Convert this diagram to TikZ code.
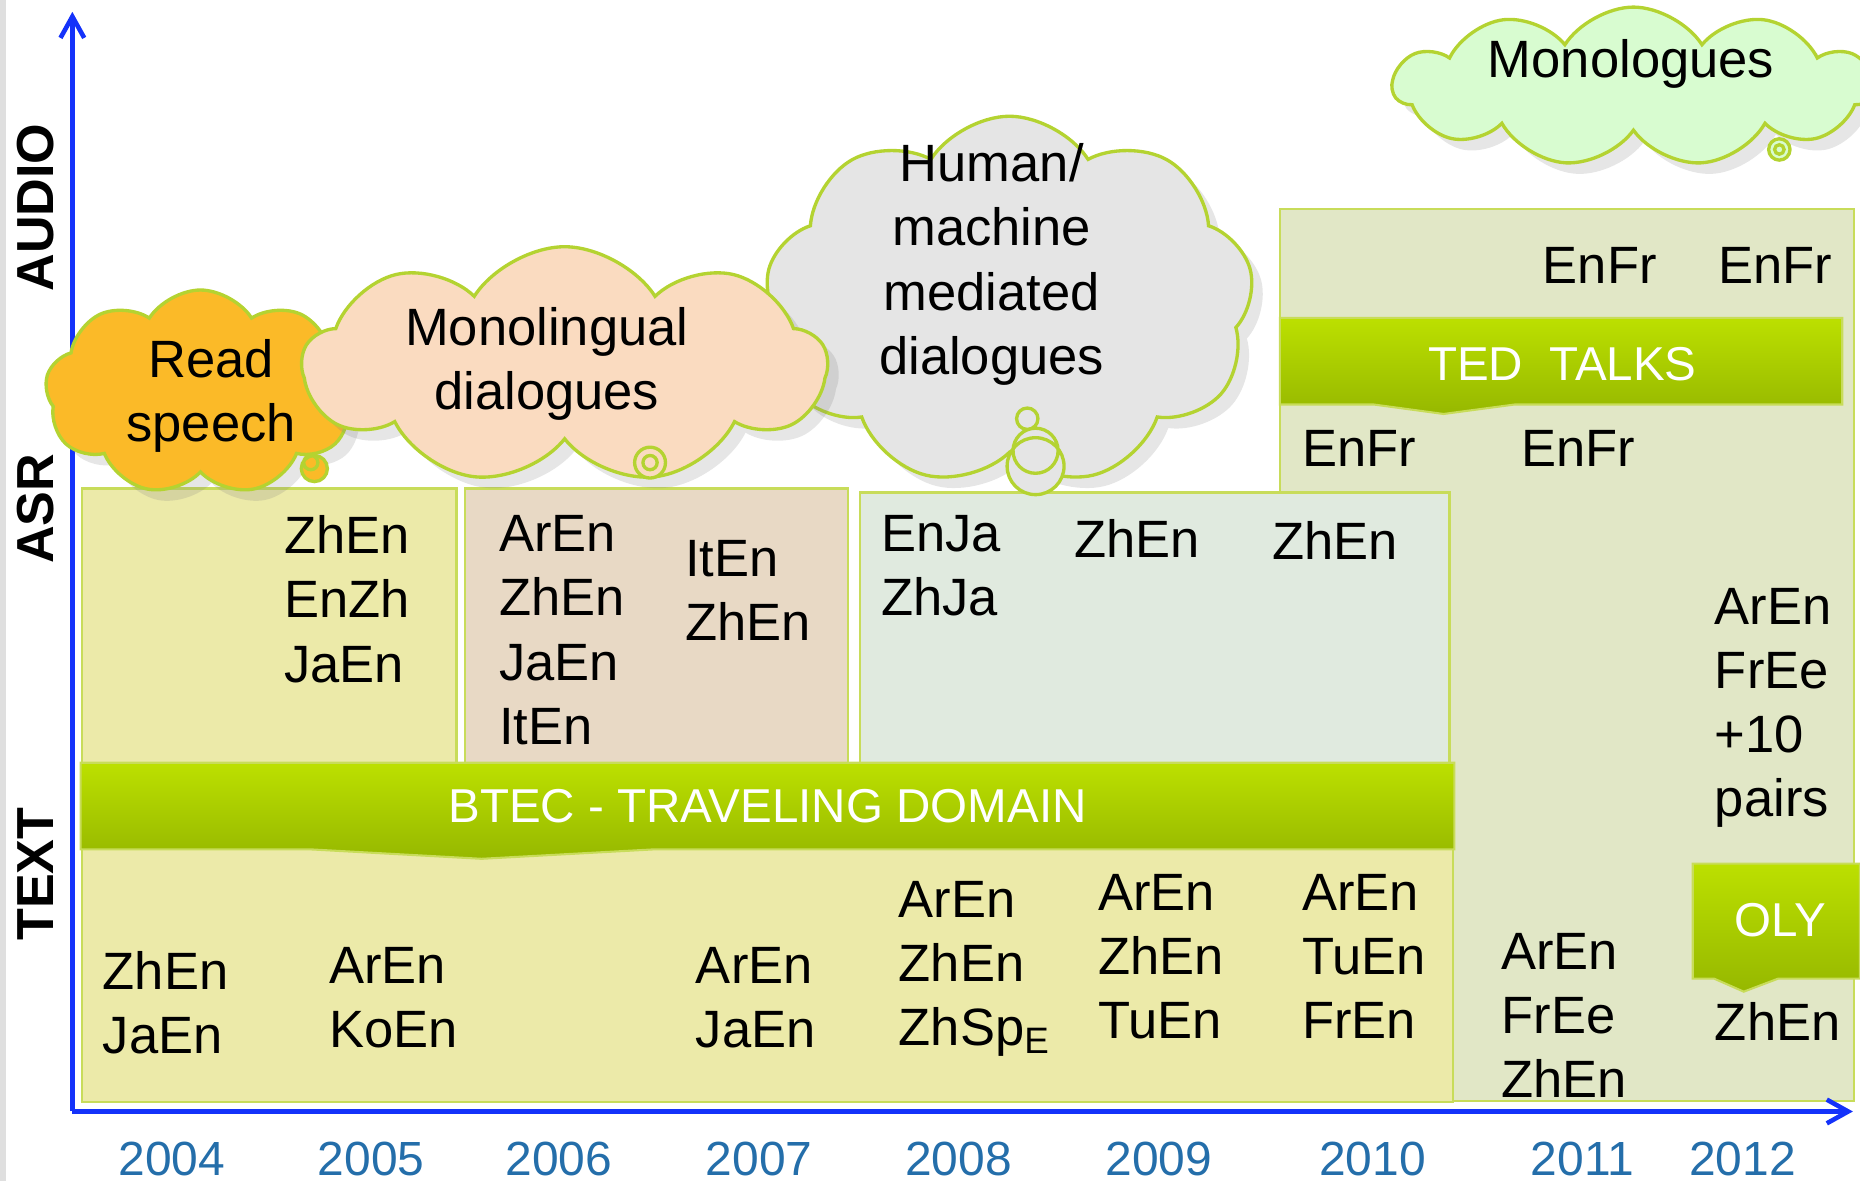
\documentclass[tikz,border=0pt]{standalone}
\usepackage{fontspec}
\setmainfont{Liberation Sans}
\usetikzlibrary{shapes.symbols, shadows, arrows.meta, positioning}
\definecolor{axisblue}{RGB}{20,50,250}
\definecolor{yearblue}{RGB}{36,110,170}
\definecolor{boxline}{RGB}{200,220,90}
\definecolor{cloudline}{RGB}{180,211,49}
\definecolor{btecfill}{RGB}{236,234,169}
\definecolor{tanfill}{RGB}{232,217,197}
\definecolor{mintfill}{RGB}{224,234,223}
\definecolor{tedfill}{RGB}{225,231,198}
\definecolor{bannertop}{RGB}{188,224,0}
\definecolor{bannerbot}{RGB}{150,184,0}
\definecolor{readfill}{RGB}{251,186,40}
\definecolor{monofill}{RGB}{250,219,192}
\definecolor{humanfill}{RGB}{229,229,229}
\definecolor{talkfill}{RGB}{216,252,208}
\tikzset{
    every node/.style={font=\fontsize{12.6}{15.4}\selectfont}, % default text
    pairs/.style={anchor=north west, inner sep=0pt, align=left},
    period/.style={draw=boxline, line width=0.6pt},
    banner/.style={top color=bannertop, bottom color=bannerbot,
        draw=boxline, line width=0.5pt},
    bannertext/.style={text=white, font=\fontsize{11.4}{14}\selectfont},
    thought/.style={ % clouds of the speech types
        cloud, cloud puffs=9, cloud puff arc=115, cloud ignores aspect,
        draw=cloudline, line width=0.8pt, inner sep=0pt,
        drop shadow={opacity=0.2}
    },
    cloudtext/.style={inner sep=0pt, align=center},
    puff/.style={draw=cloudline, line width=0.8pt},
    year/.style={text=yearblue, inner sep=0pt, font=\fontsize{11.5}{14}\selectfont},
    axislabel/.style={rotate=90, font=\bfseries\fontsize{12.5}{15}\selectfont},
    axis/.style={draw=axisblue, line width=1.1pt,
        -{Straight Barb[length=1.8mm, width=2mm]}}
}

\begin{document}
\begin{tikzpicture}[x=0.1mm, y=-0.1mm]
    \useasboundingbox (0,0) rectangle (1568,996);
    \fill[gray!25] (0,0) rectangle (5,996);

    % periods
    \draw[period, fill=tedfill]   (1079,176) rectangle (1563,928);
    \draw[period, fill=mintfill]  (725,415) rectangle (1222,645);
    \draw[period, fill=btecfill]  (69,412) rectangle (385,645);
    \draw[period, fill=tanfill]   (392,412) rectangle (715,645);
    \draw[period, fill=btecfill]  (69,715) rectangle (1225,929);

    % banners
    \shade[banner] (68,643) -- (1226,643) -- (1226,716) -- (552,716)
        -- (406,724) -- (261,716) -- (68,716) -- cycle;
    \shade[banner] (1079,268) -- (1553,268) -- (1553,341) -- (1277,341)
        -- (1217,349) -- (1158,341) -- (1079,341) -- cycle;
    \shade[banner] (1427,728) -- (1568,728) -- (1568,825) -- (1499,825)
        -- (1470,836) -- (1445,825) -- (1427,825) -- cycle;
    \node[bannertext] (btec) at (647,680) {BTEC - TRAVELING DOMAIN};
    \node[bannertext] (ted)  at (1317,307) {TED\ \ TALKS};
    \node[bannertext] (oly)  at (1501,776) {OLY};

    % language pairs
    \node[pairs] (asrA)  at (239,434) {ZhEn\\EnZh\\JaEn};
    \node[pairs] (asrB)  at (420,434) {ArEn\\ZhEn\\JaEn\\ItEn};
    \node[pairs] (asrBb) at (577,455) {ItEn\\ZhEn};
    \node[pairs] (asrC)  at (742,434) {EnJa\\ZhJa};
    \node[pairs] (asrCb) at (905,437) {ZhEn};
    \node[pairs] (asrCc) at (1072,439) {ZhEn};
    \node[pairs] (tedA)  at (1300,208) {EnFr};
    \node[pairs] (tedB)  at (1448,208) {EnFr};
    \node[pairs] (tedC)  at (1097,362) {EnFr};
    \node[pairs] (tedD)  at (1282,362) {EnFr};
    \node[pairs] (asrE)  at (1445,495) {ArEn\\FrEe\\+10\\pairs};
    \node[pairs] (olyA)  at (1445,844) {ZhEn};
    \node[pairs] (txtD)  at (1265,786) {ArEn\\FrEe\\ZhEn};
    \node[pairs] (txt04) at (86,801)   {ZhEn\\JaEn};
    \node[pairs] (txt05) at (277,798)  {ArEn\\KoEn};
    \node[pairs] (txt07) at (586,798)  {ArEn\\JaEn};
    \node[pairs] (txt08) at (757,742)  {ArEn\\ZhEn\\ZhSp\textsubscript{E}};
    \node[pairs] (txt09) at (925,736)  {ArEn\\ZhEn\\TuEn};
    \node[pairs] (txt10) at (1097,736) {ArEn\\TuEn\\FrEn};

    % axes
    \coordinate (origin) at (61,937);
    \coordinate (ytop) at (61,10);
    \coordinate (xend) at (1562,937);
    \draw[axis] (origin) -- (ytop);
    \draw[axis] (origin) -- (xend);

    % clouds (sizes in mm: 1 unit = 0.1mm)
    \node[thought, fill=humanfill, minimum width=41.2mm, minimum height=31.2mm]
        (human) at (851,254) {};
    \filldraw[puff, fill=humanfill] (873,393) circle (24) (873,380) circle (19)
        (866,353) circle (9);
    \node[thought, fill=readfill, minimum width=26.2mm, minimum height=17.3mm]
        (read) at (169,331) {};
    \filldraw[puff, fill=readfill] (265,395) circle (11) (262,390) circle (6);
    \node[thought, fill=monofill, minimum width=44.2mm, minimum height=20mm]
        (mono) at (476,308) {};
    \filldraw[puff, fill=monofill] (548,390) circle (13) (548,390) circle (6);
    \node[thought, cloud puffs=11, fill=talkfill, minimum width=40.5mm,
        minimum height=13.4mm] (talk) at (1377,73) {};
    \filldraw[puff, fill=talkfill] (1500,126) circle (9) (1500,126) circle (4);

    \node[cloudtext] (readtxt)  at (178,334) {Read\\speech};
    \node[cloudtext] (monotxt)  at (461,307) {Monolingual\\dialogues};
    \node[cloudtext] (humantxt) at (836,223) {Human/\\machine\\mediated\\dialogues};
    \node[cloudtext] (talktxt)  at (1375,54) {Monologues};

    % years and axis labels
    \foreach \yr/\x in {2004/145, 2005/313, 2006/471, 2007/640, 2008/808,
                        2009/977, 2010/1157, 2011/1334, 2012/1469}
        \node[year] (y\yr) at (\x,977) {\yr};
    \node[axislabel] (audio) at (30,175) {AUDIO};
    \node[axislabel] (asr)   at (30,429) {ASR};
    \node[axislabel] (text)  at (30,737) {TEXT};
\end{tikzpicture}
\end{document}
